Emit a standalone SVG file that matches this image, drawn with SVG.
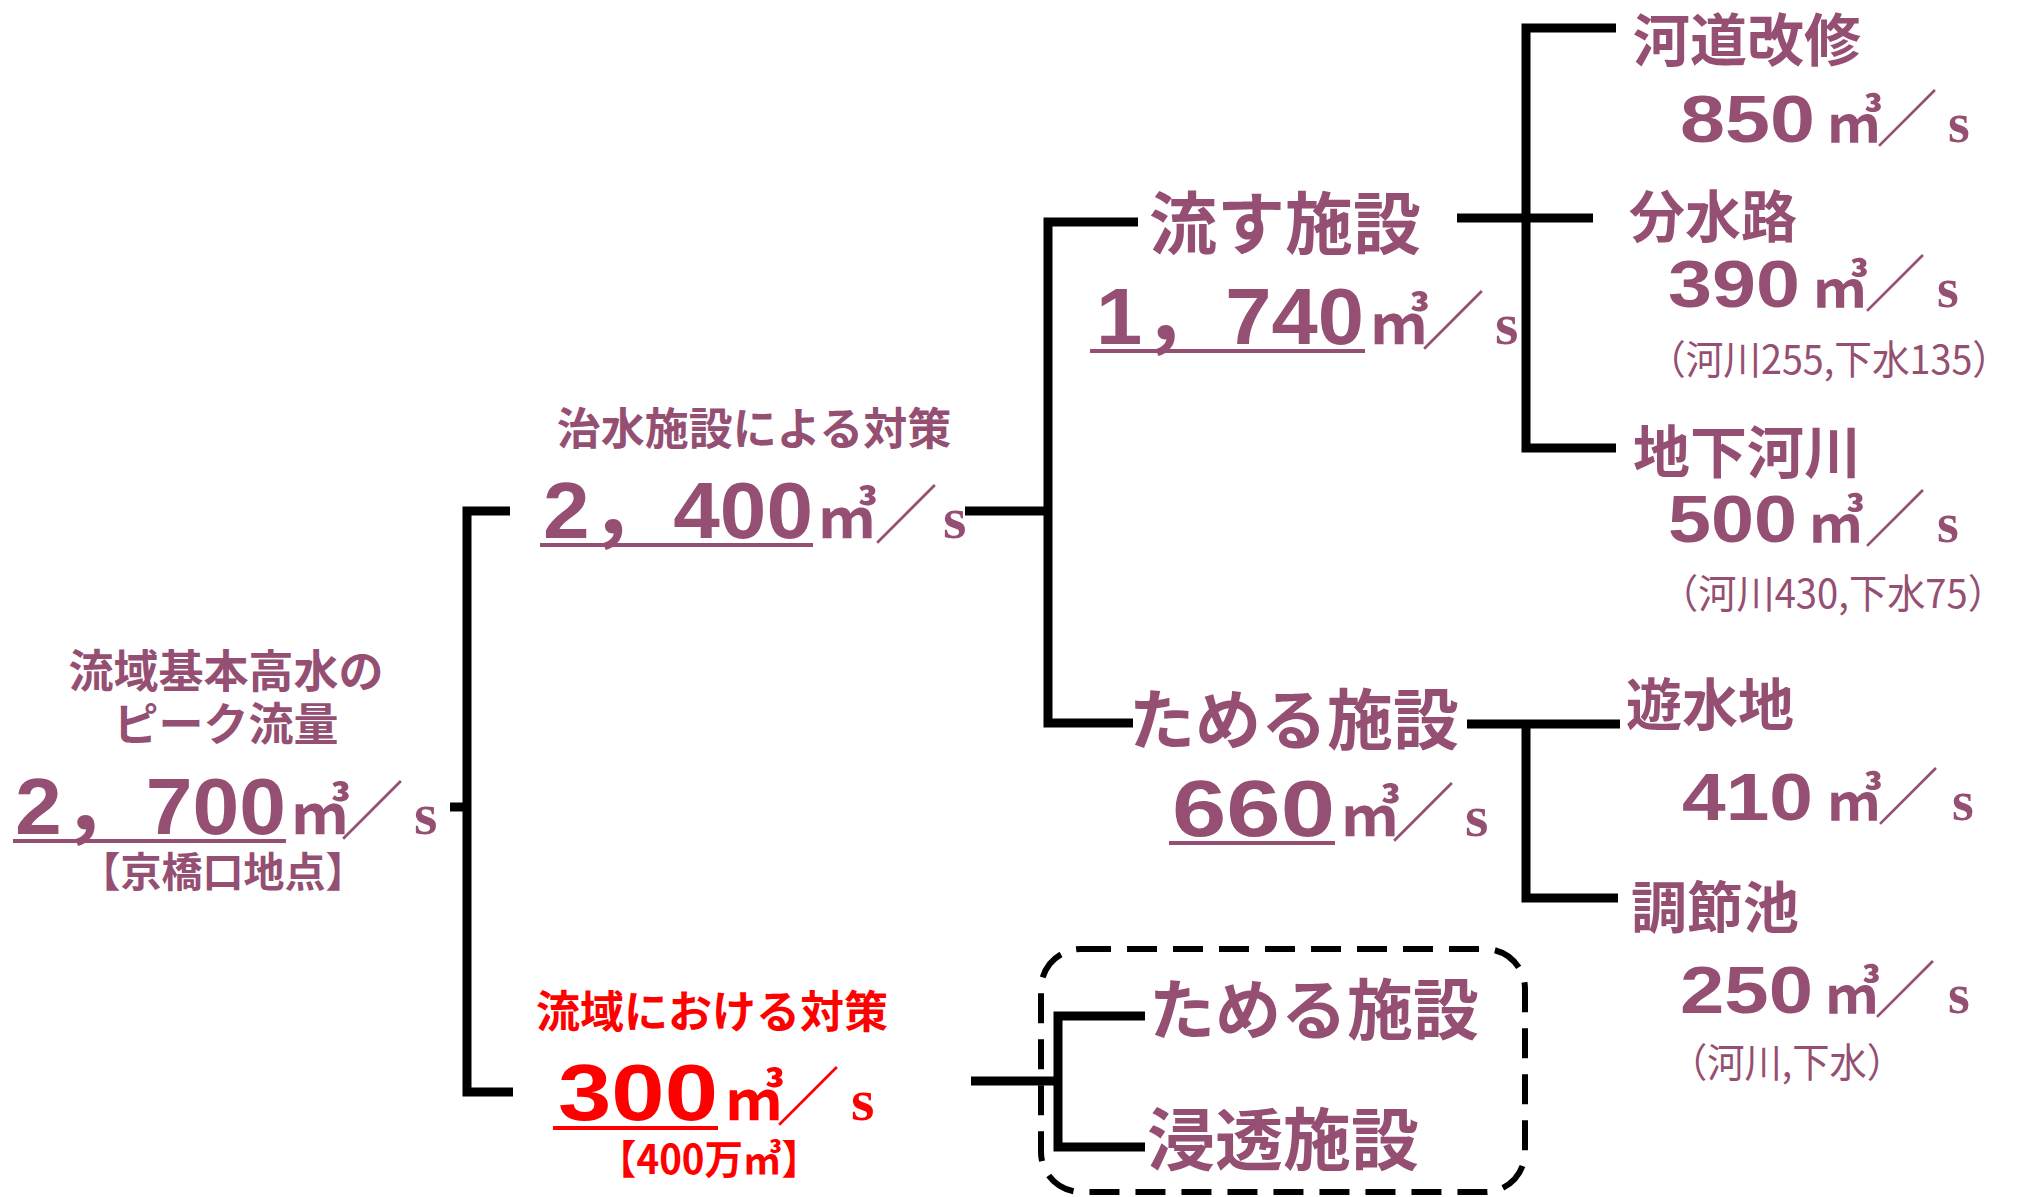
<svg xmlns="http://www.w3.org/2000/svg" width="2017" height="1197" viewBox="0 0 2017 1197">
<style>
.p{fill:#954F72}
.r{fill:#FF0000}
.h{font-family:"Noto Sans CJK JP",sans-serif;font-weight:bold}
.t{font-family:"Noto Sans CJK JP",sans-serif}
.num{font-family:"Liberation Sans","Noto Sans CJK JP",sans-serif;font-weight:bold}
.m3{font-family:"Noto Sans CJK JP",sans-serif;font-weight:bold}
.sl{font-family:"Noto Sans CJK JP",sans-serif;font-weight:400}
.s{font-family:"Liberation Serif",serif;font-weight:bold}
.ln{stroke:#000;stroke-width:9;fill:none;stroke-linecap:butt;stroke-linejoin:miter}
.ul{stroke:#954F72;stroke-width:4}
.ur{stroke:#FF0000;stroke-width:4}
</style>
<rect width="2017" height="1197" fill="#fff"/>

<g id="connectors">
<path class="ln" d="M450 807 H467"/>
<path class="ln" d="M510 511 H467 V1092 H513"/>
<path class="ln" d="M965 511 H1048"/>
<path class="ln" d="M1138 222 H1048 V723 H1133"/>
<path class="ln" d="M1457 218 H1593"/>
<path class="ln" d="M1616 28 H1526 V448 H1616"/>
<path class="ln" d="M1467 724 H1620"/>
<path class="ln" d="M1526 724 V898 H1618"/>
<path class="ln" d="M971 1081 H1058"/>
<path class="ln" d="M1145 1016 H1058 V1147 H1145"/>
</g>

<g id="root">
<text class="p h" x="226" y="688" font-size="45" text-anchor="middle">流域基本高水の</text>
<text class="p h" x="226" y="741" font-size="45" text-anchor="middle">ピーク流量</text>
<text class="p" y="834"><tspan class="num" x="15" font-size="80" textLength="271" lengthAdjust="spacingAndGlyphs">2，700</tspan><tspan class="m3" x="290" font-size="60">㎥</tspan><tspan class="sl" x="340" font-size="64">／</tspan><tspan class="s" x="414" font-size="60">s</tspan></text>
<line class="ul" x1="13" y1="841" x2="286" y2="841"/>
<text class="p h" x="223" y="887" font-size="41" text-anchor="middle">【京橋口地点】</text>
</g>

<g id="chisui">
<text class="p h" x="754" y="445" font-size="44" text-anchor="middle">治水施設による対策</text>
<text class="p" y="538"><tspan class="num" x="543" font-size="80" textLength="270" lengthAdjust="spacingAndGlyphs">2，400</tspan><tspan class="m3" x="817" font-size="60">㎥</tspan><tspan class="sl" x="874" font-size="64">／</tspan><tspan class="s" x="943" font-size="60">s</tspan></text>
<line class="ul" x1="540" y1="545" x2="813" y2="545"/>
</g>

<g id="nagasu">
<text class="p h" x="1285" y="249" font-size="68" text-anchor="middle">流す施設</text>
<text class="p" y="344"><tspan class="num" x="1096" font-size="80" textLength="268" lengthAdjust="spacingAndGlyphs">1，740</tspan><tspan class="m3" x="1369" font-size="60">㎥</tspan><tspan class="sl" x="1421" font-size="64">／</tspan><tspan class="s" x="1495" font-size="60">s</tspan></text>
<line class="ul" x1="1090" y1="351" x2="1365" y2="351"/>
</g>

<g id="tameru">
<text class="p h" x="1294" y="744" font-size="66" text-anchor="middle">ためる施設</text>
<text class="p" y="836"><tspan class="num" x="1172" font-size="80" textLength="163" lengthAdjust="spacingAndGlyphs">660</tspan><tspan class="m3" x="1340" font-size="60">㎥</tspan><tspan class="sl" x="1391" font-size="64">／</tspan><tspan class="s" x="1465" font-size="60">s</tspan></text>
<line class="ul" x1="1169" y1="843" x2="1335" y2="843"/>
</g>

<g id="kadou">
<text class="p h" x="1633" y="61" font-size="57">河道改修</text>
<text class="p" y="142"><tspan class="num" x="1680" font-size="66" textLength="135" lengthAdjust="spacingAndGlyphs">850</tspan><tspan class="m3" x="1826" font-size="56">㎥</tspan><tspan class="sl" x="1876" font-size="62">／</tspan><tspan class="s" x="1948" font-size="56">s</tspan></text>
</g>

<g id="bunsuiro">
<text class="p h" x="1629" y="237" font-size="56">分水路</text>
<text class="p" y="307"><tspan class="num" x="1668" font-size="66" textLength="132" lengthAdjust="spacingAndGlyphs">390</tspan><tspan class="m3" x="1812" font-size="56">㎥</tspan><tspan class="sl" x="1864" font-size="62">／</tspan><tspan class="s" x="1937" font-size="56">s</tspan></text>
<text class="p t" x="1648" y="374" font-size="40" textLength="362" lengthAdjust="spacingAndGlyphs">（河川255,下水135）</text>
</g>

<g id="chika">
<text class="p h" x="1633" y="473" font-size="57">地下河川</text>
<text class="p" y="542"><tspan class="num" x="1668" font-size="66" textLength="129" lengthAdjust="spacingAndGlyphs">500</tspan><tspan class="m3" x="1808" font-size="56">㎥</tspan><tspan class="sl" x="1864" font-size="62">／</tspan><tspan class="s" x="1937" font-size="56">s</tspan></text>
<text class="p t" x="1660" y="608" font-size="40" textLength="346" lengthAdjust="spacingAndGlyphs">（河川430,下水75）</text>
</g>

<g id="yusuichi">
<text class="p h" x="1626" y="725" font-size="56">遊水地</text>
<text class="p" y="820"><tspan class="num" x="1682" font-size="66" textLength="131" lengthAdjust="spacingAndGlyphs">410</tspan><tspan class="m3" x="1826" font-size="56">㎥</tspan><tspan class="sl" x="1877" font-size="62">／</tspan><tspan class="s" x="1952" font-size="56">s</tspan></text>
</g>

<g id="chousetsu">
<text class="p h" x="1631" y="928" font-size="56">調節池</text>
<text class="p" y="1013"><tspan class="num" x="1680" font-size="66" textLength="133" lengthAdjust="spacingAndGlyphs">250</tspan><tspan class="m3" x="1824" font-size="56">㎥</tspan><tspan class="sl" x="1874" font-size="62">／</tspan><tspan class="s" x="1948" font-size="56">s</tspan></text>
<text class="p t" x="1670" y="1077" font-size="40" textLength="234" lengthAdjust="spacingAndGlyphs">（河川,下水）</text>
</g>

<g id="ryuiki">
<text class="r h" x="712" y="1028" font-size="44" text-anchor="middle">流域における対策</text>
<text class="r" y="1120"><tspan class="num" x="558" font-size="80" textLength="160" lengthAdjust="spacingAndGlyphs">300</tspan><tspan class="m3" x="724" font-size="60">㎥</tspan><tspan class="sl" x="776" font-size="64">／</tspan><tspan class="s" x="851" font-size="60">s</tspan></text>
<line class="ur" x1="553" y1="1128" x2="718" y2="1128"/>
<text class="r h" x="598" y="1174" font-size="40" textLength="222" lengthAdjust="spacingAndGlyphs">【400万㎥】</text>
</g>

<g id="ryuiki-box">
<rect x="1041" y="949" width="484" height="243" rx="40" ry="40" fill="none" stroke="#000" stroke-width="6" stroke-dasharray="30 16"/>
<text class="p h" x="1314" y="1034" font-size="66" text-anchor="middle">ためる施設</text>
<text class="p h" x="1283" y="1165" font-size="68" text-anchor="middle">浸透施設</text>
</g>
</svg>
